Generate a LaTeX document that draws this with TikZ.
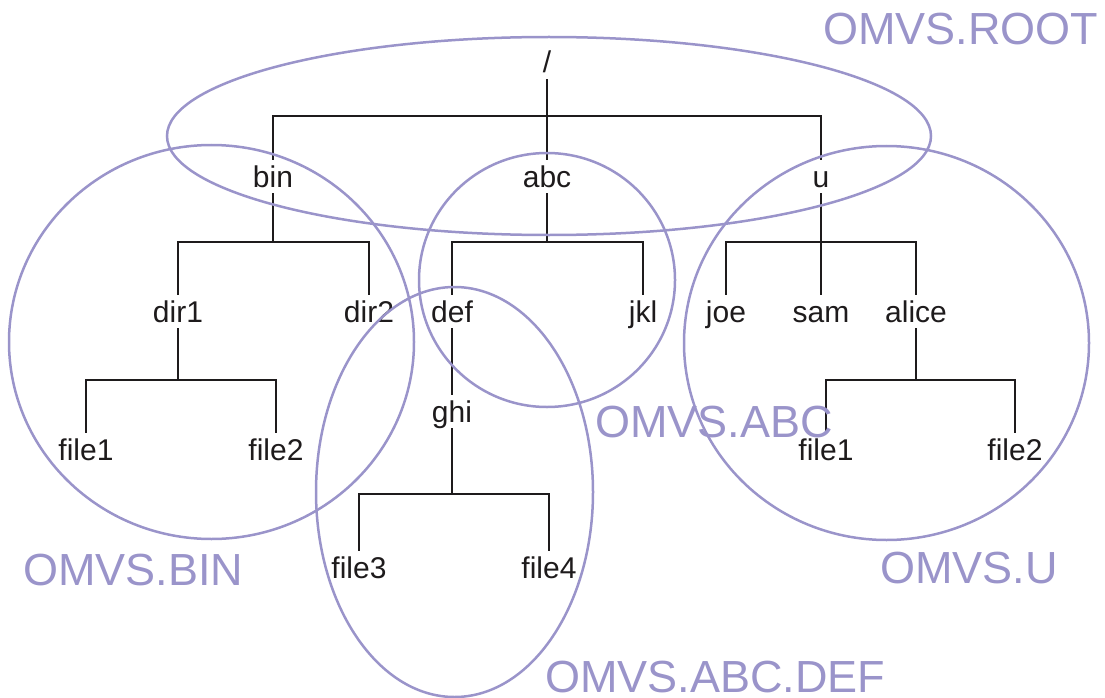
\documentclass[tikz,border=0pt]{standalone}
\usepackage{fontspec}
\setmainfont{Liberation Sans}
\definecolor{grp}{RGB}{154,148,202}
\definecolor{ink}{RGB}{30,27,28}
\tikzset{
  lbl/.style={anchor=base, inner xsep=0pt, inner ysep=6pt, text height=21pt, text depth=0pt,
              font=\fontsize{30}{31}\selectfont, text=ink},
  conn/.style={draw=ink, line width=1.2pt},
  ring/.style={draw=grp, line width=2.5pt},
  grplbl/.style={anchor=base west, inner sep=0pt, font=\fontsize{45}{46}\selectfont, text=grp}
}
\begin{document}
\begin{tikzpicture}[x=1pt,y=-1pt]
\useasboundingbox (0,0) rectangle (1105,698);
% tree nodes
\node[lbl] (root) at (547,73) {/};
\node[lbl] (bin) at (273,187) {bin};
\node[lbl] (abc) at (547,187) {abc};
\node[lbl] (u) at (821,187) {u};
\node[lbl] (dir1) at (178,322) {dir1};
\node[lbl] (dir2) at (369,322) {dir2};
\node[lbl] (def) at (452,322) {def};
\node[lbl] (jkl) at (643,322) {jkl};
\node[lbl] (joe) at (726,322) {joe};
\node[lbl] (sam) at (821,322) {sam};
\node[lbl] (alice) at (916,322) {alice};
\node[lbl] (bfile1) at (86,460) {file1};
\node[lbl] (bfile2) at (276,460) {file2};
\node[lbl] (ghi) at (452,422) {ghi};
\node[lbl] (file3) at (359,578) {file3};
\node[lbl] (file4) at (549,578) {file4};
\node[lbl] (ufile1) at (826,460) {file1};
\node[lbl] (ufile2) at (1015,460) {file2};
% bars
\coordinate (b0) at (547,116);
\coordinate (b1) at (273,242);
\coordinate (b2) at (547,242);
\coordinate (b3) at (821,242);
\coordinate (b4) at (178,380);
\coordinate (b5) at (452,494);
\coordinate (b6) at (916,380);
% connectors
\draw[conn] (root.south) -- (abc.north);
\draw[conn] (b0) -| (bin.north);
\draw[conn] (b0) -| (u.north);
\draw[conn] (bin.south) -- (b1);
\draw[conn] (b1) -| (dir1.north);
\draw[conn] (b1) -| (dir2.north);
\draw[conn] (abc.south) -- (b2);
\draw[conn] (b2) -| (def.north);
\draw[conn] (b2) -| (jkl.north);
\draw[conn] (u.south) -- (sam.north);
\draw[conn] (b3) -| (joe.north);
\draw[conn] (b3) -| (alice.north);
\draw[conn] (dir1.south) -- (b4);
\draw[conn] (b4) -| (bfile1.north);
\draw[conn] (b4) -| (bfile2.north);
\draw[conn] (def.south) -- (ghi.north);
\draw[conn] (ghi.south) -- (b5);
\draw[conn] (b5) -| (file3.north);
\draw[conn] (b5) -| (file4.north);
\draw[conn] (alice.south) -- (b6);
\draw[conn] (b6) -| (ufile1.north);
\draw[conn] (b6) -| (ufile2.north);
% groups
\draw[ring] (549,136) ellipse [x radius=382pt, y radius=99pt];
\draw[ring] (211.5,342) ellipse [x radius=202.5pt, y radius=197pt];
\draw[ring] (547,280) ellipse [x radius=128pt, y radius=127pt];
\draw[ring] (886.5,343) ellipse [x radius=202.5pt, y radius=197pt];
\draw[ring] (454.5,492) ellipse [x radius=138.5pt, y radius=205pt];
% group labels
\node[grplbl] (lroot) at (823,45) {OMVS.ROOT};
\node[grplbl] (labc) at (595,437) {OMVS.ABC};
\node[grplbl] (lbin) at (23,585) {OMVS.BIN};
\node[grplbl] (lu) at (880,583) {OMVS.U};
\node[grplbl] (ldef) at (545,692) {OMVS.ABC.DEF};
\end{tikzpicture}
\end{document}
